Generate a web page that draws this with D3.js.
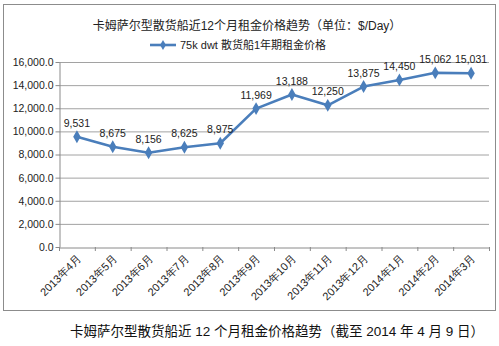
<!DOCTYPE html>
<html><head><meta charset="utf-8">
<script src="https://cdn.jsdelivr.net/npm/d3@7"></script>
<style>body{margin:0;background:#fff}svg{display:block;font-family:"Liberation Sans",Arial,"Noto Sans CJK SC",sans-serif}</style>
</head><body><svg id="c" width="499" height="346"></svg>
<script>
const categories=["2013年4月","2013年5月","2013年6月","2013年7月","2013年8月","2013年9月","2013年10月","2013年11月","2013年12月","2014年1月","2014年2月","2014年3月"];
const values=[9531,8675,8156,8625,8975,11969,13188,12250,13875,14450,15062,15031];
const yTicks=[0,2000,4000,6000,8000,10000,12000,14000,16000];
const title="卡姆萨尔型散货船近12个月租金价格趋势（单位：$/Day）";
const seriesName="75k dwt 散货船1年期租金价格";
const caption="卡姆萨尔型散货船近 12 个月租金价格趋势（截至 2014 年 4 月 9 日）";

const svg=d3.select("#c");
const color="#4a7ebb";
svg.append("rect").attr("x",3.5).attr("y",4.5).attr("width",492).attr("height",306).attr("fill","#fff").attr("stroke","#8c8c8c");

const x=d3.scaleBand().domain(categories).range([59,489]);
const y=d3.scaleLinear().domain([0,16000]).range([247,62]);

svg.append("g").selectAll("line").data(yTicks.slice(1)).join("line")
 .attr("x1",59).attr("x2",489).attr("y1",d=>y(d)+0.5).attr("y2",d=>y(d)+0.5).attr("stroke","#8a8a8a").attr("stroke-width",0.8);

const ya=d3.axisLeft(y).tickValues(yTicks).tickFormat(d3.format(",.1f")).tickSize(4).tickSizeOuter(0);
const gy=svg.append("g").attr("transform","translate(59.5,0)").call(ya);
gy.select(".domain").attr("stroke","#8a8a8a");
gy.selectAll(".tick line").attr("stroke","#8a8a8a");
gy.selectAll("text").attr("font-size",10.5).attr("fill","#222").attr("x",-6);

const xa=d3.axisBottom(x).tickSize(0).tickSizeOuter(0);
const gx=svg.append("g").attr("transform","translate(0,247.5)").call(xa);
gx.select(".domain").attr("stroke","#8a8a8a");
gx.selectAll(".tick line").remove();
gx.selectAll("text").attr("font-size",11).attr("fill","#222")
 .attr("text-anchor","end").attr("dy",0).attr("y",0)
 .attr("transform","translate(5,12) rotate(-45)");
svg.append("g").selectAll("line").data(categories.concat(["end"])).join("line")
 .attr("x1",(d,i)=>59+i*x.bandwidth()+0.5).attr("x2",(d,i)=>59+i*x.bandwidth()+0.5)
 .attr("y1",247).attr("y2",251).attr("stroke","#8a8a8a");

const cx=(d,i)=>x(categories[i])+x.bandwidth()/2;
svg.append("path").datum(values).attr("fill","none").attr("stroke",color).attr("stroke-width",2.6)
 .attr("stroke-linejoin","round")
 .attr("d",d3.line().x(cx).y(d=>y(d)));
svg.append("g").selectAll("path").data(values).join("path")
 .attr("d",d3.symbol(d3.symbolDiamond,48)).attr("fill",color)
 .attr("transform",(d,i)=>`translate(${cx(d,i)},${y(d)})`);
svg.append("g").selectAll("text").data(values).join("text")
 .attr("x",cx).attr("y",d=>y(d)-10).attr("text-anchor","middle").attr("font-size",10.5).attr("fill","#222")
 .text(d=>d3.format(",")(d));

svg.append("text").attr("x",247).attr("y",30).attr("text-anchor","middle").attr("font-size",12).attr("fill","#222").text(title);
svg.append("line").attr("x1",150).attr("x2",176).attr("y1",45).attr("y2",45).attr("stroke",color).attr("stroke-width",2.6);
svg.append("path").attr("d",d3.symbol(d3.symbolDiamond,30)).attr("fill",color).attr("transform","translate(163,45)");
svg.append("text").attr("x",180).attr("y",49).attr("font-size",11).attr("fill","#222").text(seriesName);

svg.append("text").attr("x",70).attr("y",336).attr("text-anchor","start").attr("font-size",13.5).attr("fill","#111").text(caption);
</script></body></html>
